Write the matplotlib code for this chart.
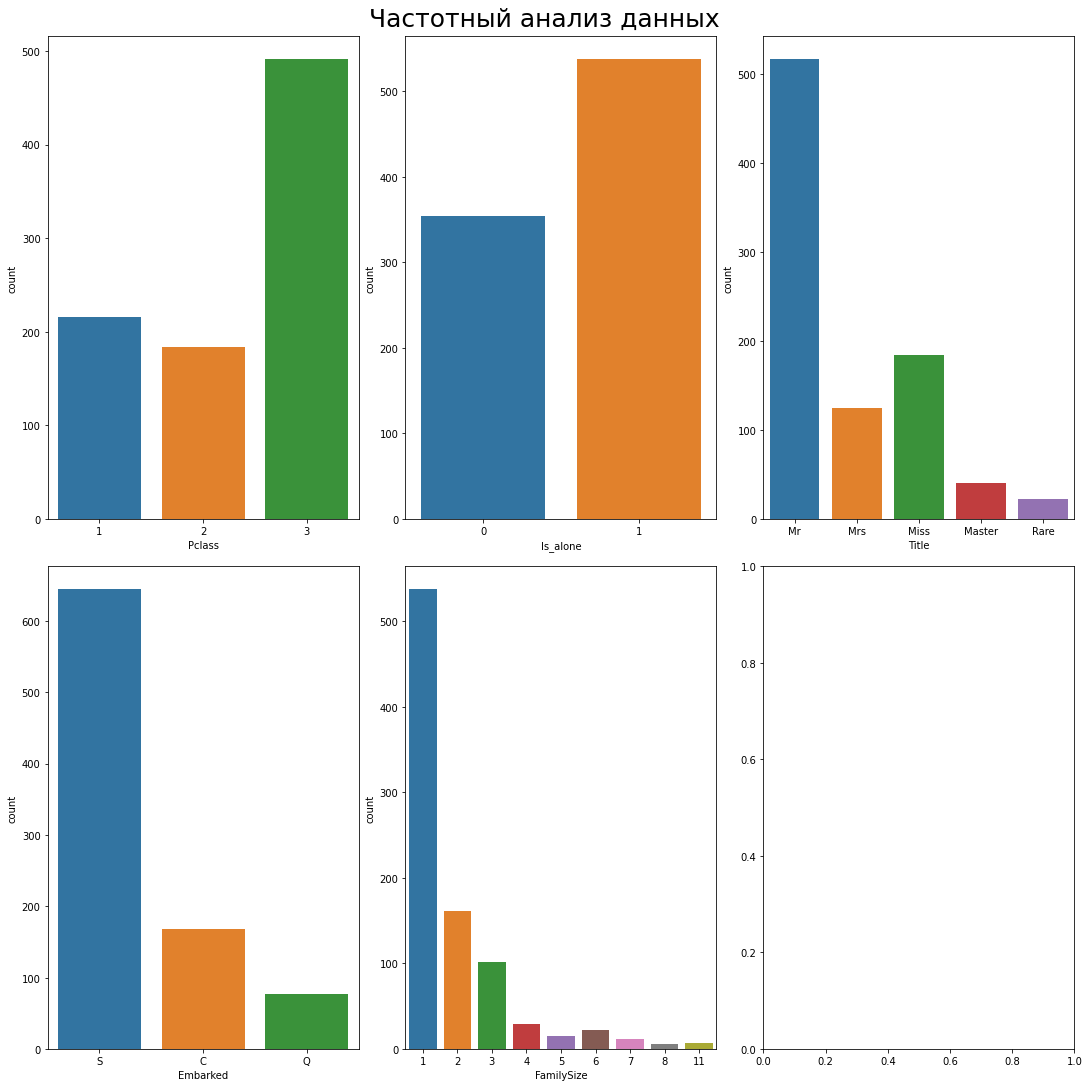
import matplotlib
matplotlib.use("Agg")
import matplotlib.pyplot as plt

pclass_cats = ["1", "2", "3"]
pclass_vals = [216, 184, 491]
alone_cats = ["0", "1"]
alone_vals = [354, 537]
title_cats = ["Mr", "Mrs", "Miss", "Master", "Rare"]
title_vals = [517, 125, 185, 40, 23]
emb_cats = ["S", "C", "Q"]
emb_vals = [644, 168, 77]
fam_cats = ["1", "2", "3", "4", "5", "6", "7", "8", "11"]
fam_vals = [537, 161, 102, 29, 15, 22, 12, 6, 7]

colors = ["#3274a1", "#e1812c", "#3a923a", "#c03d3e", "#9372b2",
          "#845b53", "#d684bd", "#7f7f7f", "#a9aa35"]

fig, axes = plt.subplots(2, 3, figsize=(15.11, 15.11), dpi=72)
fig.subplots_adjust(left=0.0437, right=0.9876, top=0.9657, bottom=0.0349,
                    wspace=0.151, hspace=0.098)

def countplot(ax, cats, vals, xlabel):
    x = list(range(len(cats)))
    ax.bar(x, vals, width=0.8, color=colors[:len(cats)])
    ax.set_xticks(x)
    ax.set_xticklabels(cats)
    ax.set_xlim(-0.5, len(cats) - 0.5)
    ax.set_xlabel(xlabel)
    ax.set_ylabel("count")

countplot(axes[0, 0], pclass_cats, pclass_vals, "Pclass")
countplot(axes[0, 1], alone_cats, alone_vals, "Is_alone")
countplot(axes[0, 2], title_cats, title_vals, "Title")
countplot(axes[1, 0], emb_cats, emb_vals, "Embarked")
countplot(axes[1, 1], fam_cats, fam_vals, "FamilySize")

fig.suptitle("Частотный анализ данных", fontsize=25, y=0.9926)
fig.savefig("out.png", dpi=72)
